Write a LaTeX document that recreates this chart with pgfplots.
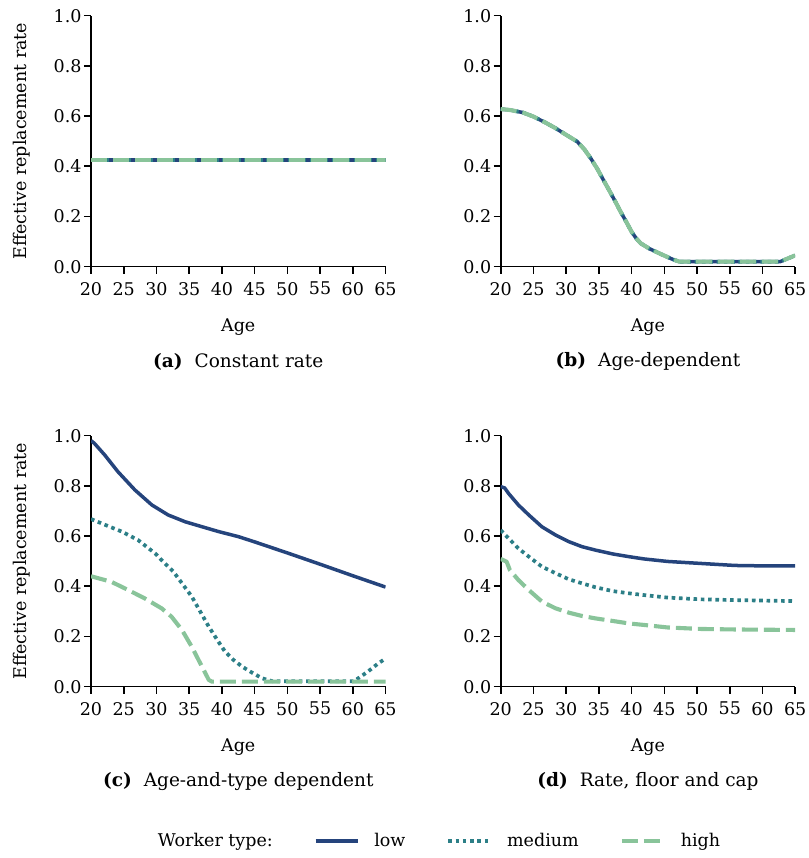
\documentclass[border=0pt]{standalone}
\usepackage{pgfplots}
\pgfplotsset{compat=1.18}
\usepackage{fontspec}
\setmainfont{DejaVu Serif}

\definecolor{lowc}{RGB}{37,68,124}
\definecolor{medc}{RGB}{44,127,135}
\definecolor{highc}{RGB}{137,196,154}

\newcommand{\figfont}{\fontsize{17.5}{21}\selectfont}
\newcommand{\capfont}{\fontsize{18.5}{22}\selectfont}

\pgfplotsset{
  panel/.style={
    width=294.5pt, height=251pt, scale only axis,
    anchor=south west,
    xmin=20, xmax=65, ymin=0, ymax=1,
    axis x line*=bottom, axis y line*=left,
    axis line style={line width=1.6pt,-},
    xtick={20,25,...,65},
    ytick={0,0.2,0.4,0.6,0.8,1.0},
    tick align=outside, major tick length=7pt,
    tick style={line width=1.6pt,black},
    /pgf/number format/assume math mode=true,
    xticklabel={\figfont\pgfmathprintnumber[assume math mode=true,fixed,precision=0]{\tick}},
    yticklabel={\figfont\pgfmathprintnumber[assume math mode=true,fixed,fixed zerofill,precision=1]{\tick}},
    x tick label style={yshift=-5pt},
    y tick label style={xshift=1pt},
    label style={font=\figfont},
    xlabel={Age},
    xlabel style={at={(axis description cs:0.5,-0.239)},anchor=center},
    ylabel style={at={(axis description cs:-0.235,0.5)},anchor=center},
    legend image code/.code={\draw[#1] (0pt,0pt) -- (42pt,0pt);},
  },
  lowl/.style={color=lowc,line width=3.5pt,solid,line join=round},
  medl/.style={color=medc,line width=3.7pt,dash pattern=on 3.6pt off 3.7pt,line join=round},
  highl/.style={color=highc,line width=4.1pt,dash pattern=on 16pt off 6pt,line join=round},
}

\begin{document}
\begin{tikzpicture}
\useasboundingbox (0pt,0pt) rectangle (808pt,858pt);

% (a) constant replacement rate
\begin{axis}[panel, name=pa, at={(91pt,591.3pt)}, ylabel={Effective replacement rate}]
\addplot[lowl]  coordinates {(20,0.426) (65,0.426)};
\addplot[medl]  coordinates {(20,0.426) (65,0.426)};
\addplot[highl] coordinates {(20,0.426) (65,0.426)};
\end{axis}
\node[font=\capfont] at ([yshift=-95pt]pa.south) {\textbf{(a)}\hspace{12pt}Constant rate};

% (b) age-dependent rate, identical for all types
\begin{axis}[panel, name=pb, at={(500.7pt,591.3pt)}]
\addplot[lowl] coordinates {(20,0.628) (21.5,0.624) (23.4,0.614) (25,0.598) (26.7,0.576) (28.3,0.553) (29.9,0.527) (31.7,0.498) (32.8,0.467) (33.8,0.43) (34.8,0.388) (35.7,0.345) (36.6,0.303) (37.5,0.26) (38.3,0.22) (39.2,0.178) (40.0,0.139) (40.7,0.113) (41.4,0.093) (42.7,0.072) (44.5,0.05) (46.3,0.029) (47.3,0.02) (62.7,0.02) (65,0.045)};
\addplot[medl] coordinates {(20,0.628) (21.5,0.624) (23.4,0.614) (25,0.598) (26.7,0.576) (28.3,0.553) (29.9,0.527) (31.7,0.498) (32.8,0.467) (33.8,0.43) (34.8,0.388) (35.7,0.345) (36.6,0.303) (37.5,0.26) (38.3,0.22) (39.2,0.178) (40.0,0.139) (40.7,0.113) (41.4,0.093) (42.7,0.072) (44.5,0.05) (46.3,0.029) (47.3,0.02) (62.7,0.02) (65,0.045)};
\addplot[highl] coordinates {(20,0.628) (21.5,0.624) (23.4,0.614) (25,0.598) (26.7,0.576) (28.3,0.553) (29.9,0.527) (31.7,0.498) (32.8,0.467) (33.8,0.43) (34.8,0.388) (35.7,0.345) (36.6,0.303) (37.5,0.26) (38.3,0.22) (39.2,0.178) (40.0,0.139) (40.7,0.113) (41.4,0.093) (42.7,0.072) (44.5,0.05) (46.3,0.029) (47.3,0.02) (62.7,0.02) (65,0.045)};
\end{axis}
\node[font=\capfont] at ([yshift=-95pt]pb.south) {\textbf{(b)}\hspace{12pt}Age-dependent};

% (c) age-and-type dependent rate
\begin{axis}[panel, name=pc, at={(91pt,171.3pt)}, ylabel={Effective replacement rate},
  legend style={at={(axis description cs:1.1596,-0.6147)}, anchor=center,
    draw=none, fill=none, font=\figfont, legend columns=4,
    /tikz/every even column/.append style={column sep=39pt},
    /tikz/every odd column/.append style={column sep=13pt}}]
\addlegendimage{empty legend}
\addlegendentry{Worker type:}
\addplot[lowl] coordinates {(20,0.98) (20.5,0.97) (22.1,0.923) (24.1,0.857) (26.7,0.784) (29.3,0.724) (31.8,0.684) (34.4,0.657) (37.0,0.637) (39.5,0.618) (42.5,0.598) (45,0.577) (50,0.533) (55,0.488) (60,0.442) (65,0.397)};
\addlegendentry{low}
\addplot[medl] coordinates {(20,0.668) (22.6,0.640) (24.7,0.618) (27.2,0.584) (29.8,0.531) (31.3,0.491) (32.6,0.458) (33.9,0.412) (35.4,0.359) (36.7,0.299) (38.0,0.239) (39.3,0.186) (40.5,0.139) (41.8,0.106) (43.1,0.08) (44.6,0.056) (46.2,0.033) (47.7,0.022) (60.2,0.022) (62.3,0.06) (63.9,0.093) (65,0.112)};
\addlegendentry{medium}
\addplot[highl] coordinates {(20,0.44) (23.1,0.418) (25.7,0.385) (28.2,0.352) (30.8,0.312) (32.3,0.279) (33.9,0.226) (35.4,0.159) (36.7,0.093) (38.0,0.027) (38.5,0.02) (65,0.02)};
\addlegendentry{high}
\end{axis}
\node[font=\capfont] at ([yshift=-95pt]pc.south) {\textbf{(c)}\hspace{12pt}Age-and-type dependent};

% (d) rate with floor and cap
\begin{axis}[panel, name=pd, at={(500.7pt,171.3pt)}]
\addplot[lowl] coordinates {(20,0.797) (20.6,0.792) (21.2,0.770) (22.7,0.724) (24.3,0.684) (26.3,0.637) (28.4,0.604) (30.4,0.578) (32.4,0.558) (34.5,0.544) (37.1,0.529) (39.6,0.518) (41.9,0.509) (45.5,0.499) (50.6,0.491) (55.8,0.483) (60.9,0.481) (65,0.481)};
\addplot[medl] coordinates {(20,0.624) (21.2,0.591) (22.7,0.551) (24.3,0.518) (26.3,0.478) (28.4,0.452) (30.4,0.428) (32.4,0.412) (34.5,0.396) (37.1,0.381) (39.6,0.372) (41.9,0.365) (45.5,0.355) (50.6,0.348) (55.8,0.345) (65,0.341)};
\addplot[highl] coordinates {(20,0.509) (20.9,0.498) (21.4,0.465) (22.7,0.425) (24.3,0.385) (26.3,0.339) (28.4,0.312) (30.4,0.295) (32.4,0.282) (34.5,0.272) (37.1,0.262) (39.6,0.252) (41.9,0.246) (45.5,0.236) (50.6,0.230) (55.8,0.228) (65,0.226)};
\end{axis}
\node[font=\capfont] at ([yshift=-95pt]pd.south) {\textbf{(d)}\hspace{12pt}Rate, floor and cap};
\end{tikzpicture}
\end{document}
